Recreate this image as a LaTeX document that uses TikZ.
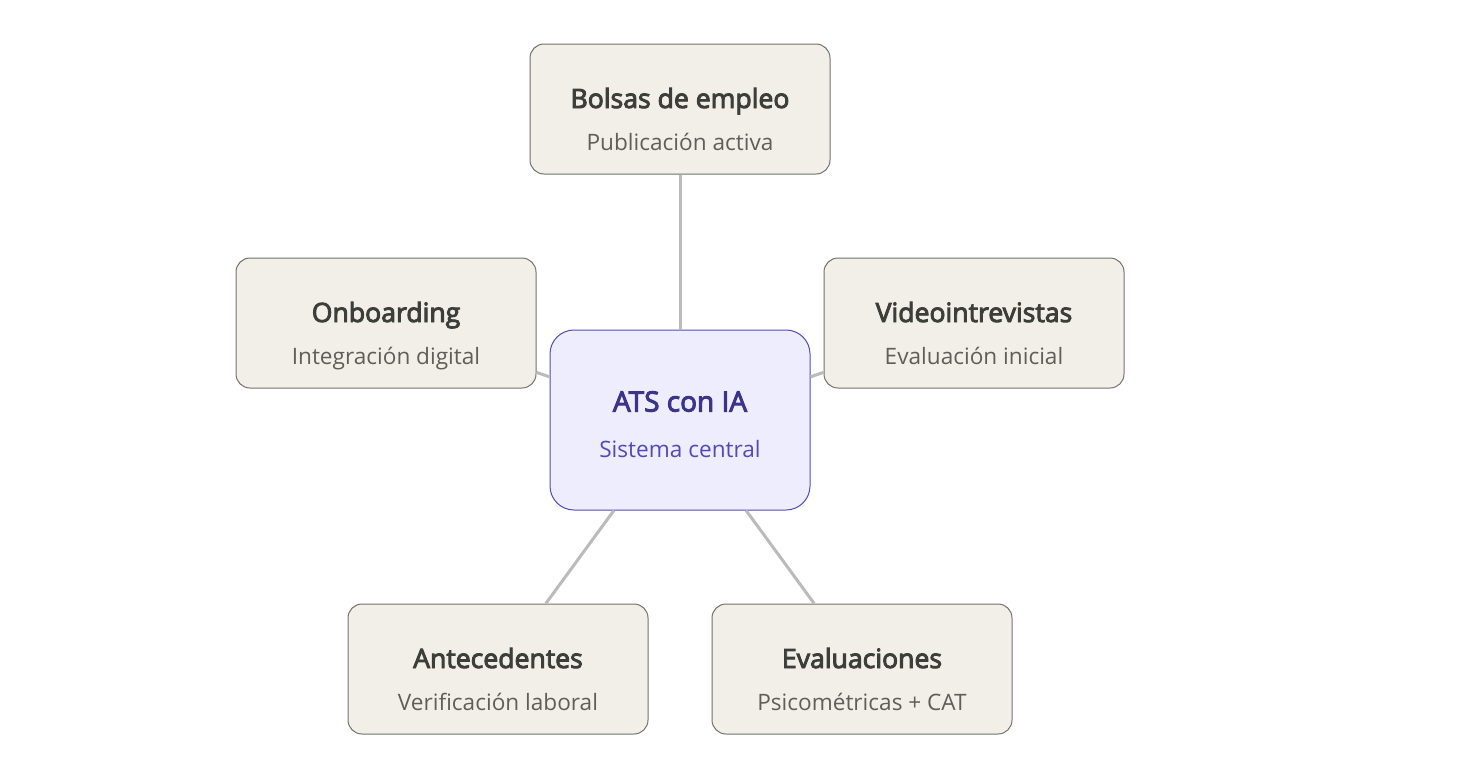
\documentclass[tikz,border=0pt]{standalone}
\usepackage{fontspec}
\setmainfont{Open Sans}
\newfontfamily\headfont[FakeBold=3.5]{Open Sans}
\definecolor{boxfill}{HTML}{F1EFE8}
\definecolor{boxline}{HTML}{73726C}
\definecolor{boxhead}{HTML}{3D3D3A}
\definecolor{boxsub}{HTML}{5F5E5A}
\definecolor{hubfill}{HTML}{EEEDFE}
\definecolor{hubline}{HTML}{534AB7}
\definecolor{hubhead}{HTML}{3C3489}
\definecolor{spoke}{HTML}{BBBBBB}
\newcommand{\boxtext}[2]{{\fontsize{26.6}{30}\headfont\rule[-8pt]{0pt}{56pt}#1}\\{\fontsize{22.6}{26}\selectfont\color{boxsub}\rule[-8pt]{0pt}{41pt}#2}}
\newcommand{\hubtext}[2]{{\fontsize{28}{30}\headfont\rule[-8pt]{0pt}{45pt}#1}\\{\fontsize{22.6}{26}\selectfont\color{hubline}\rule[-8pt]{0pt}{45pt}#2}}
\tikzset{
  module/.style={draw=boxline, fill=boxfill, text=boxhead, line width=1pt, rounded corners=14pt,
    minimum width=300pt, minimum height=130pt, align=center, inner sep=0pt},
  hub/.style={draw=hubline, fill=hubfill, text=hubhead, line width=1pt, rounded corners=24pt,
    minimum width=260pt, minimum height=180pt, align=center, inner sep=0pt},
  spokeline/.style={draw=spoke, line width=3pt}
}
\begin{document}
\begin{tikzpicture}[x=1pt,y=-1pt]
  \useasboundingbox (0,0) rectangle (1472,774);
  \node[hub] (Hub) at (680,420) {\hubtext{ATS con IA}{Sistema central}};
  \node[module] (Bolsas) at (680,109) {\boxtext{Bolsas de empleo}{Publicación activa}};
  \node[module] (Video) at (974,323) {\boxtext{Videointrevistas}{Evaluación inicial}};
  \node[module] (Onboarding) at (386,323) {\boxtext{Onboarding}{Integración digital}};
  \node[module] (Antecedentes) at (498,669) {\boxtext{Antecedentes}{Verificación laboral}};
  \node[module] (Evaluaciones) at (862,669) {\boxtext{Evaluaciones}{Psicométricas + CAT}};
  \foreach \target in {Bolsas,Video,Onboarding,Antecedentes,Evaluaciones}
    \draw[spokeline] (Hub) -- (\target);
\end{tikzpicture}
\end{document}
